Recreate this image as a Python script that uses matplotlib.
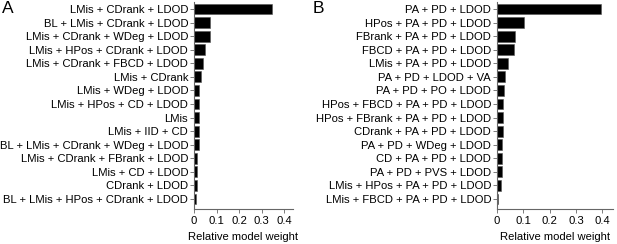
import matplotlib
matplotlib.use("Agg")
import matplotlib.pyplot as plt

plt.rcParams['font.family'] = ['Liberation Sans', 'DejaVu Sans']

labels_a = ["LMis + CDrank + LDOD", "BL + LMis + CDrank + LDOD", "LMis + CDrank + WDeg + LDOD",
            "LMis + HPos + CDrank + LDOD", "LMis + CDrank + FBCD + LDOD", "LMis + CDrank",
            "LMis + WDeg + LDOD", "LMis + HPos + CD + LDOD", "LMis", "LMis + IID + CD",
            "BL + LMis + CDrank + WDeg + LDOD", "LMis + CDrank + FBrank + LDOD",
            "LMis + CD + LDOD", "CDrank + LDOD", "BL + LMis + HPos + CDrank + LDOD"]
weights_a = [0.346, 0.071, 0.069, 0.050, 0.041, 0.032, 0.024, 0.021, 0.021, 0.022,
             0.022, 0.013, 0.013, 0.012, 0.011]

labels_b = ["PA + PD + LDOD", "HPos + PA + PD + LDOD", "FBrank + PA + PD + LDOD",
            "FBCD + PA + PD + LDOD", "LMis + PA + PD + LDOD", "PA + PD + LDOD + VA",
            "PA + PD + PO + LDOD", "HPos + FBCD + PA + PD + LDOD",
            "HPos + FBrank + PA + PD + LDOD", "CDrank + PA + PD + LDOD",
            "PA + PD + WDeg + LDOD", "CD + PA + PD + LDOD", "PA + PD + PVS + LDOD",
            "LMis + HPos + PA + PD + LDOD", "LMis + FBCD + PA + PD + LDOD"]
weights_b = [0.395, 0.103, 0.069, 0.066, 0.043, 0.029, 0.027, 0.024, 0.024, 0.024,
             0.018, 0.018, 0.018, 0.015, 0.005]

xticks = [0, 0.1, 0.2, 0.3, 0.4]
xticklabels = ["0", "0.1", "0.2", "0.3", "0.4"]

W, H = 617, 244
fig = plt.figure(figsize=(W / 100, H / 100), dpi=100)
FS = 8.1

def make_panel(left_px, right_px, labels, weights, letter, letter_x):
    bottom_px = 209
    top_px = 2.2
    ax = fig.add_axes([left_px / W, (H - bottom_px) / H,
                       (right_px - left_px) / W, (bottom_px - top_px) / H])
    y = list(range(len(labels)))
    ax.barh(y, weights, height=0.8, color='black', edgecolor='#555555', linewidth=0.4)
    ax.set_ylim(len(labels) - 0.26, -0.5)
    ax.set_xlim(0, 0.44)
    ax.set_yticks(y)
    ax.set_yticklabels(labels, fontsize=FS, color='black')
    ax.set_xticks(xticks)
    ax.set_xticklabels(xticklabels, fontsize=FS, color='black')
    for s in ['top', 'right']:
        ax.spines[s].set_visible(False)
    for s in ['left', 'bottom']:
        ax.spines[s].set_color('#666666')
        ax.spines[s].set_linewidth(0.8)
    ax.tick_params(axis='y', length=3, width=0.6, color='#666666', pad=1.2)
    ax.tick_params(axis='x', length=3, width=0.6, color='#666666', pad=2.2)
    ax.set_xlabel("Relative model weight", fontsize=FS, color='black', labelpad=4.5)
    fig.text(letter_x / W, 1 - 1 / H, letter, fontsize=12.5, va='top', ha='left', color='black')
    return ax

make_panel(194, 293, labels_a, weights_a, "A", 2)
make_panel(497, 613, labels_b, weights_b, "B", 313)

fig.savefig("out.png", dpi=100)
